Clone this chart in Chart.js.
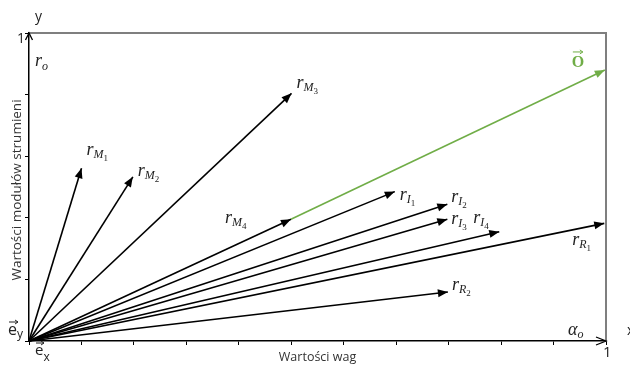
<!DOCTYPE html>
<html lang="pl">
<head>
    <meta charset="UTF-8">
    <title>Wektory strumieni</title>
    <script src="https://cdn.jsdelivr.net/npm/chart.js@4.4.1/dist/chart.umd.min.js"></script>
    <style>
        body { margin: 0; background: #fff; }
    </style>
</head>
<body>

<canvas id="theVectorChart" width="630" height="365"></canvas>

<script>
    // vectors drawn from the origin (e_x, e_y)
    var vectorLetters = ["M", "M", "M", "M", "I", "I", "I", "I", "R", "R"];
    var vectorIndexes = ["1", "2", "3", "4", "1", "2", "3", "4", "1", "2"];
    var vectorX = [0.091, 0.180, 0.455, 0.454, 0.634, 0.725, 0.725, 0.815, 0.997, 0.726];
    var vectorY = [0.561, 0.533, 0.804, 0.395, 0.485, 0.444, 0.395, 0.355, 0.382, 0.159];
    // resulting vector O, starts at the tip of r_M4
    var resultStart = 3;
    var resultX = 0.998;
    var resultY = 0.880;
    // tick positions on the axes
    var xTicks = [0, 0.0909, 0.1818, 0.2727, 0.3636, 0.4545, 0.5455, 0.6364, 0.7273, 0.8182, 0.9091, 1];
    var yTicks = [0, 0.2, 0.4, 0.6, 0.8, 1];

    // label offsets (px) from the arrow tip
    var labelOffsets = [[5, -13], [5, -1], [5, -5], [-66, 4], [5, 8], [4, -2], [4, 5], [-26, -9], [-32, 22], [4, -2]];
    var GREEN = "#70ad47";
    var INK = "#222";
    var SERIF = '"Liberation Serif"';

    var datasets = vectorX.map(function(x, i){
        return {
            data: [{x: 0, y: 0}, {x: x, y: vectorY[i]}],
            showLine: true,
            borderColor: "#000",
            borderWidth: 1.6,
            pointRadius: 0,
            clip: false
        };
    });
    datasets.push({
        data: [{x: vectorX[resultStart], y: vectorY[resultStart]}, {x: resultX, y: resultY}],
        showLine: true,
        borderColor: GREEN,
        borderWidth: 1.6,
        pointRadius: 0,
        clip: false
    });

    function mathText(ctx, x, y, parts){
        parts.forEach(function(p){
            ctx.font = p.font;
            ctx.fillText(p.t, x, y + (p.dy || 0));
            x += ctx.measureText(p.t).width;
        });
    }

    function arrowHead(ctx, x0, y0, x1, y1, color, len, half){
        var ang = Math.atan2(y1 - y0, x1 - x0);
        ctx.fillStyle = color;
        ctx.beginPath();
        ctx.moveTo(x1, y1);
        ctx.lineTo(x1 - len * Math.cos(ang) + half * Math.sin(ang), y1 - len * Math.sin(ang) - half * Math.cos(ang));
        ctx.lineTo(x1 - len * Math.cos(ang) - half * Math.sin(ang), y1 - len * Math.sin(ang) + half * Math.cos(ang));
        ctx.closePath();
        ctx.fill();
    }

    function overArrow(ctx, x0, x1, y, color){
        ctx.strokeStyle = color;
        ctx.lineWidth = 1;
        ctx.beginPath(); ctx.moveTo(x0, y); ctx.lineTo(x1, y); ctx.stroke();
        ctx.beginPath(); ctx.moveTo(x1 - 3, y - 2); ctx.lineTo(x1, y); ctx.lineTo(x1 - 3, y + 2); ctx.stroke();
    }

    var vectorPlugin = {
        id: "vectorPlugin",
        beforeDatasetsDraw: function(chart){
            var ctx = chart.ctx, a = chart.chartArea;
            ctx.save();
            ctx.strokeStyle = "#7f7f7f";
            ctx.lineWidth = 2;
            ctx.beginPath();
            ctx.moveTo(a.left, a.top);
            ctx.lineTo(a.right, a.top);
            ctx.lineTo(a.right, a.bottom);
            ctx.stroke();
            ctx.restore();
        },
        afterDraw: function(chart){
            var ctx = chart.ctx, a = chart.chartArea;
            var xs = chart.scales.x, ys = chart.scales.y;
            ctx.save();
            // axis arrows
            ctx.strokeStyle = "#000";
            ctx.lineWidth = 1.3;
            ctx.beginPath();
            ctx.moveTo(a.left - 3.5, a.top + 7); ctx.lineTo(a.left, a.top); ctx.lineTo(a.left + 3.5, a.top + 7);
            ctx.stroke();
            ctx.beginPath();
            ctx.moveTo(a.right - 10, a.bottom - 4); ctx.lineTo(a.right, a.bottom); ctx.lineTo(a.right - 10, a.bottom + 4);
            ctx.stroke();
            // vector heads and labels
            chart.data.datasets.forEach(function(ds, i){
                var x0 = xs.getPixelForValue(ds.data[0].x), y0 = ys.getPixelForValue(ds.data[0].y);
                var x1 = xs.getPixelForValue(ds.data[1].x), y1 = ys.getPixelForValue(ds.data[1].y);
                arrowHead(ctx, x0, y0, x1, y1, ds.borderColor, 10, 4);
                if (i < vectorLetters.length){
                    ctx.fillStyle = INK;
                    ctx.textBaseline = "alphabetic";
                    ctx.textAlign = "left";
                    mathText(ctx, x1 + labelOffsets[i][0], y1 + labelOffsets[i][1], [
                        {t: "r", font: "italic 18px " + SERIF},
                        {t: vectorLetters[i], font: "italic 12px " + SERIF, dy: 3},
                        {t: vectorIndexes[i], font: "9px " + SERIF, dy: 6}
                    ]);
                } else {
                    ctx.fillStyle = GREEN;
                    ctx.font = "bold 16px " + SERIF;
                    ctx.fillText("O", x1 - 33, y1 - 3);
                    overArrow(ctx, x1 - 32, x1 - 22, y1 - 18, GREEN);
                }
            });
            // axis texts
            ctx.fillStyle = INK;
            ctx.textAlign = "left";
            ctx.textBaseline = "alphabetic";
            mathText(ctx, a.left + 6, a.top + 33, [
                {t: "r", font: "italic 18px " + SERIF},
                {t: "o", font: "italic 12px " + SERIF, dy: 4}
            ]);
            mathText(ctx, a.right - 38, a.bottom - 6, [
                {t: "\u03b1", font: "italic 18px " + SERIF},
                {t: "o", font: "italic 12px " + SERIF, dy: 3}
            ]);
            mathText(ctx, 8, 335, [
                {t: "e", font: '16px "Open Sans"'},
                {t: "y", font: '12px "Open Sans"', dy: 3}
            ]);
            overArrow(ctx, 9, 18, 322, INK);
            mathText(ctx, 35, 355, [
                {t: "e", font: '15px "Open Sans"'},
                {t: "x", font: '12px "Open Sans"', dy: 6}
            ]);
            overArrow(ctx, 36, 44, 343, INK);
            ctx.font = '14px "Open Sans"';
            ctx.fillText("y", a.left + 6, 21);
            ctx.fillText("1", a.left - 12, a.top + 10);
            ctx.fillText("x", a.right + 21, a.bottom - 6);
            ctx.font = '15px "Open Sans"';
            ctx.fillText("1", a.right - 3, a.bottom + 16);
            // axis titles
            ctx.fillStyle = "#333";
            ctx.textAlign = "center";
            ctx.font = '12.5px "Open Sans"';
            ctx.fillText("Warto\u015bci wag", (a.left + a.right) / 2, a.bottom + 20);
            ctx.font = '13.5px "Open Sans"';
            ctx.translate(a.left - 8, (a.top + a.bottom) / 2 + 3);
            ctx.rotate(-Math.PI / 2);
            ctx.fillText("Warto\u015bci modu\u0142\u00f3w strumieni", 0, 0);
            ctx.restore();
        }
    };

    var vectorChart = new Chart("theVectorChart", {
        type: "scatter",
        data: { datasets: datasets },
        options: {
            responsive: false,
            animation: false,
            layout: { padding: { left: 25, right: 24, top: 33, bottom: 20 } },
            plugins: {
                legend: { display: false },
                tooltip: { enabled: false }
            },
            scales: {
                x: {
                    type: "linear", min: 0, max: 1,
                    afterBuildTicks: function(s){ s.ticks = xTicks.map(function(v){ return {value: v}; }); },
                    afterFit: function(s){ s.height = 4; },
                    ticks: { display: false },
                    grid: { drawOnChartArea: false, tickLength: 4, color: "#000", lineWidth: 1 },
                    border: { color: "#000", width: 1.5 }
                },
                y: {
                    type: "linear", min: 0, max: 1,
                    afterBuildTicks: function(s){ s.ticks = yTicks.map(function(v){ return {value: v}; }); },
                    afterFit: function(s){ s.width = 4; },
                    ticks: { display: false },
                    grid: { drawOnChartArea: false, tickLength: 4, color: "#000", lineWidth: 1 },
                    border: { color: "#000", width: 1.5 }
                }
            }
        },
        plugins: [vectorPlugin]
    });
</script>

</body>
</html>
